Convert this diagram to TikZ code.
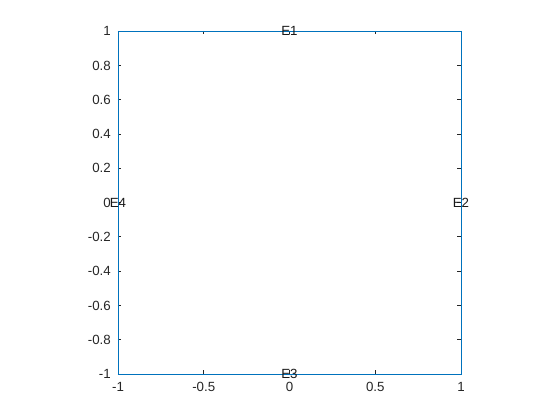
\documentclass[tikz,border=0pt]{standalone}
\usepackage{fontspec}
\setmainfont{Liberation Sans}
\definecolor{mblue}{rgb}{0,0.447,0.741}
\definecolor{axgray}{rgb}{0.15,0.15,0.15}
\begin{document}
\begin{tikzpicture}[x=171.5pt,y=171.5pt,
  ticklab/.style={font=\fontsize{13.3}{16}\selectfont, text=axgray, inner sep=0pt},
  elab/.style={font=\fontsize{13.3}{16}\selectfont, text=black!90, inner sep=0pt},
  tickline/.style={draw=axgray, line width=0.6pt},
  boxline/.style={draw=mblue, line width=0.8pt}]
\useasboundingbox[fill=white] (-289.5pt,-217.5pt) rectangle (270.5pt,202.5pt);
% y ticks
\foreach \y/\t [count=\i] in {-1/-1,-0.8/-0.8,-0.6/-0.6,-0.4/-0.4,-0.2/-0.2,0/0,0.2/0.2,0.4/0.4,0.6/0.6,0.8/0.8,1/1}{
  \draw[tickline] (-1,\y) -- ++(3.5pt,0);
  \draw[tickline] (1,\y) -- ++(-3.5pt,0);
  \node[ticklab, anchor=base east, xshift=-7pt, yshift=-4.75pt] (yl\i) at (-1,\y) {\t};
}
% x ticks
\foreach \x/\t [count=\i] in {-1/-1,-0.5/-0.5,0/0,0.5/0.5,1/1}{
  \draw[tickline] (\x,-1) -- ++(0,3.5pt);
  \draw[tickline] (\x,1) -- ++(0,-3.5pt);
  \node[ticklab, anchor=base, yshift=-18pt] (xl\i) at (\x,-1) {\t};
}
% blue square
\coordinate (p1) at (-1,-1);
\coordinate (p2) at (1,-1);
\coordinate (p3) at (1,1);
\coordinate (p4) at (-1,1);
\draw[boxline] (p1) -- (p2) -- (p3) -- (p4) -- cycle;
% labels
\node[elab] (e1) at (0,1) {E1};
\node[elab] (e2) at (1,0) {E2};
\node[elab] (e3) at (0,-1) {E3};
\node[elab] (e4) at (-1,0) {E4};
\end{tikzpicture}
\end{document}
